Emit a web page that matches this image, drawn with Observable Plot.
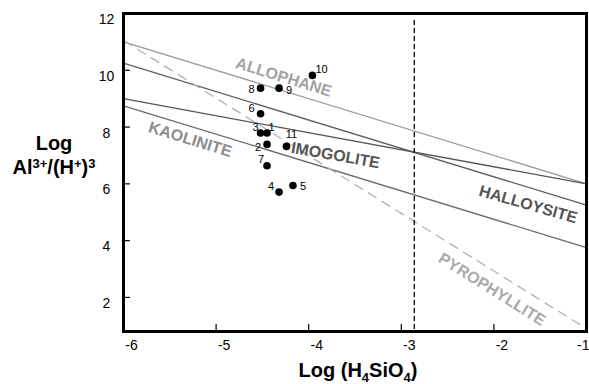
<!DOCTYPE html>
<html><head><meta charset="utf-8">
<script src="https://cdn.jsdelivr.net/npm/d3@7"></script>
<script src="https://cdn.jsdelivr.net/npm/@observablehq/plot@0.6"></script>
<style>body{margin:0;background:#fff;} svg{display:block}</style>
</head><body><div id="chart"></div>
<script>
// ---- data ----
const xTicks = [-6, -5, -4, -3, -2, -1];
const yTicks = [2, 4, 6, 8, 10, 12];

const sampleIds   = ["1", "2", "3", "4", "5", "6", "7", "8", "9", "10", "11"];
const sampleLogSi = [-4.45, -4.45, -4.52, -4.32, -4.17, -4.52, -4.45, -4.52, -4.32, -3.96, -4.24];
const sampleLogAl = [7.79, 7.39, 7.79, 5.71, 5.94, 8.47, 6.64, 9.37, 9.37, 9.82, 7.32];

const boundaryNames = ["allophane", "halloysite", "imogolite", "kaolinite", "pyrophyllite"];
const boundaryX0 = [-6, -6, -6, -6, -6];
const boundaryY0 = [11.0, 10.25, 9.0, 8.75, 11.05];
const boundaryX1 = [-1, -1, -1, -1, -1];
const boundaryY1 = [6.0, 5.25, 6.0, 3.75, 0.9];

const silicaLimit = -2.86;
const silicaLimitTop = 11.75;

const mineralLabels = ["ALLOPHANE", "KAOLINITE", "IMOGOLITE", "HALLOYSITE", "PYROPHYLLITE"];
const mineralLabelX = [-4.27, -5.28, -3.71, -1.63, -2.02];
const mineralLabelY = [9.75, 7.56, 7.0, 5.27, 2.28];

// ---- styles ----
const boundaryStroke = ["#9a9a9a", "#5e5e5e", "#555555", "#6a6a6a", "#b0b0b0"];
const boundaryDash = [null, null, null, null, "10,6"];
const mineralFill = ["#a3a3a3", "#8c8c8c", "#555555", "#555555", "#aaaaaa"];
const mineralRotate = [17, 17, 10, 16, 32];
const labelAnchor = ["start", "end", "end", "end", "start", "end", "end", "end", "start", "start", "middle"];
const labelDx = [1.5, -6, -2, -5, 7, -6, -3, -6, 7, 3, 5];
const labelDy = [-6, 3.5, -6, -6, 0.5, -5, -6, 1, 2, -6, -12];

const samples = sampleIds.map((id, i) => ({id, x: sampleLogSi[i], y: sampleLogAl[i]}));
const boundaries = boundaryNames.map((name, i) => ({name, x1: boundaryX0[i], y1: boundaryY0[i], x2: boundaryX1[i], y2: boundaryY1[i]}));
const minerals = mineralLabels.map((t, i) => ({t, x: mineralLabelX[i], y: mineralLabelY[i]}));

const xMin = -6, xMax = -1, yMin = 0.8, yMax = 12;

const marks = [];
boundaries.forEach((b, i) => {
  marks.push(Plot.link([b], {x1: "x1", y1: "y1", x2: "x2", y2: "y2", stroke: boundaryStroke[i], strokeWidth: 1.3, strokeDasharray: boundaryDash[i]}));
});
marks.push(Plot.ruleX([silicaLimit], {y1: silicaLimitTop, y2: yMin, stroke: "#000", strokeWidth: 1.3, strokeDasharray: "5,3"}));
minerals.forEach((m, i) => {
  marks.push(Plot.text([m], {x: "x", y: "y", text: "t", rotate: mineralRotate[i], fill: mineralFill[i], fontSize: 16, fontWeight: "bold"}));
});
marks.push(Plot.dot(samples, {x: "x", y: "y", r: 3.8, fill: "#000", stroke: null}));
samples.forEach((s, i) => {
  marks.push(Plot.text([s], {x: "x", y: "y", text: "id", textAnchor: labelAnchor[i], dx: labelDx[i], dy: labelDy[i], fontSize: 11, fill: "#000"}));
});
// inward tick marks (short rules from the frame edge)
marks.push(Plot.ruleX(xTicks, {x: d => d, y1: yMin, y2: yMin + 0.25, stroke: "#000", strokeWidth: 1.2}));
marks.push(Plot.ruleY(yTicks, {y: d => d, x1: xMin, x2: xMin + 0.075, stroke: "#000", strokeWidth: 1.2}));
// tick labels
marks.push(Plot.axisX(xTicks.slice(0, -1), {tickSize: 0, tickPadding: 9, dx: 8, fontSize: 14, tickFormat: d => String(d), label: null, fill: "#000"}));
marks.push(Plot.axisX(xTicks.slice(-1), {tickSize: 0, tickPadding: 9, dx: 3, textAnchor: "end", fontSize: 14, tickFormat: d => String(d), label: null, fill: "#000"}));
marks.push(Plot.axisY(yTicks, {tickSize: 0, tickPadding: 17, textAnchor: "middle", dy: 6, fontSize: 14, tickFormat: d => String(d), label: null, fill: "#000"}));
marks.push(Plot.frame({stroke: "#000", strokeWidth: 3}));

const chart = Plot.plot({
  width: 589, height: 384,
  marginLeft: 123, marginRight: 3, marginTop: 13, marginBottom: 53,
  style: {fontFamily: "Arial, 'Liberation Sans', sans-serif", background: "#fff", color: "#000"},
  x: {domain: [xMin, xMax]},
  y: {domain: [yMin, yMax]},
  marks
});
document.getElementById("chart").appendChild(chart);

// axis titles with super/subscripts
const svg = d3.select(chart);
const ff = "Arial, 'Liberation Sans', sans-serif";
svg.append("text").attr("x", 54).attr("y", 150).attr("text-anchor", "middle")
  .attr("font-family", ff).attr("font-size", 20).attr("font-weight", "bold").text("Log");
const t2 = svg.append("text").attr("x", 54).attr("y", 174).attr("text-anchor", "middle")
  .attr("font-family", ff).attr("font-size", 20).attr("font-weight", "bold");
t2.append("tspan").text("Al");
t2.append("tspan").attr("font-size", 13).attr("dy", -6).text("3+");
t2.append("tspan").attr("dy", 6).text("/(H");
t2.append("tspan").attr("font-size", 13).attr("dy", -6).text("+");
t2.append("tspan").attr("dy", 6).text(")");
t2.append("tspan").attr("font-size", 13).attr("dy", -6).text("3");
const t3 = svg.append("text").attr("x", 358).attr("y", 377).attr("text-anchor", "middle")
  .attr("font-family", ff).attr("font-size", 20).attr("font-weight", "bold");
t3.append("tspan").text("Log (H");
t3.append("tspan").attr("font-size", 13).attr("dy", 5).text("4");
t3.append("tspan").attr("dy", -5).text("SiO");
t3.append("tspan").attr("font-size", 13).attr("dy", 5).text("4");
t3.append("tspan").attr("dy", -5).text(")");
</script>
</body></html>
